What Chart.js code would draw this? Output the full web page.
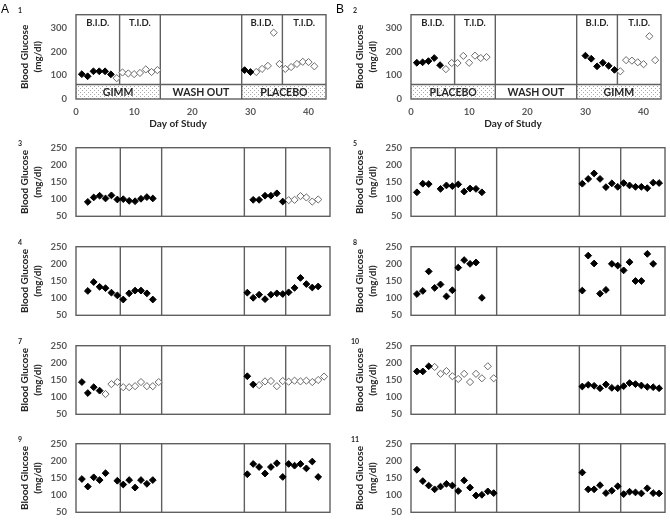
<!DOCTYPE html>
<html>
<head>
<meta charset="utf-8">
<script src="https://cdn.jsdelivr.net/npm/chart.js@4.4.1/dist/chart.umd.min.js"></script>
<style>
  html, body { margin: 0; padding: 0; background: #fff; }
  #wrap { position: relative; width: 670px; height: 524px; overflow: hidden; }
  #wrap canvas { position: absolute; }
</style>
</head>
<body>
<div id="wrap"></div>
<script>
// Study days of the two treatment periods (washout is days 15-28)
const firstDays  = [1, 2, 3, 4, 5, 6, 7, 8, 9, 10, 11, 12, 13, 14];
const secondDays = [29, 30, 31, 32, 33, 34, 35, 36, 37, 38, 39, 40, 41, 42];
const periodSplits = [7.5, 14.5, 28.5, 35.5];

const topYTicks = [0, 100, 200, 300];
const dayTicks = [0, 10, 20, 30, 40];

// Glucose (mg/dl) per day, null = no reading. *Open lists the days drawn as open diamonds.
const p1First  = [105, 96, 117, 117, 117, 104, 88, 112, 108, 105, 110, 125, 114, 122];
const p1Second = [122, 114, 114, 127, 140, 280, 148, 127, 135, 148, 157, 156, 138, null];
const p1Open   = [7, 8, 9, 10, 11, 12, 13, 14, 31, 32, 33, 34, 35, 36, 37, 38, 39, 40, 41];

const p2First  = [153, 155, 160, 173, 143, 126, 152, 152, 182, 153, 183, 173, 177, null];
const p2Second = [null, 183, 170, 138, 153, 140, 123, 117, 164, 162, 155, 147, 265, 164];
const p2Open   = [6, 7, 8, 9, 10, 11, 12, 13, 36, 37, 38, 39, 40, 41, 42];

const p3First  = [null, 92, 105, 110, 102, 111, 99, 100, 95, 94, 101, 106, 102, null];
const p3Second = [null, 98, 98, 110, 110, 117, 93, 97, 98, 109, 105, 93, 99, null];
const p3Open   = [36, 37, 38, 39, 40, 41];

const p4First  = [null, 121, 147, 133, 129, 116, 108, 96, 114, 122, 122, 114, 96, null];
const p4Second = [116, 101, 110, 97, 110, 114, 112, 117, 130, 159, 141, 131, 134, null];
const p4Open   = [];

const p7First  = [144, 112, 129, 119, 109, 138, 144, 129, 129, 132, 144, 132, 132, 144];
const p7Second = [161, 137, 135, 146, 147, 132, 147, 145, 148, 146, 148, 144, 150, 160];
const p7Open   = [5, 6, 7, 8, 9, 10, 11, 12, 13, 14, 31, 32, 33, 34, 35, 36, 37, 38, 39, 40, 41, 42];

const p9First  = [147, 125, 152, 144, 164, null, 142, 131, 144, 122, 144, 133, 144, null];
const p9Second = [161, 191, 182, 163, 182, 193, 153, 191, 186, 191, 178, 198, 153, null];
const p9Open   = [];

const p5First  = [120, 145, 144, null, 130, 140, 138, 143, 122, 131, 130, 120, null, null];
const p5Second = [145, 159, 175, 159, 135, 146, 136, 147, 140, 136, 136, 132, 148, 147];
const p5Open   = [];

const p8First  = [112, 121, 178, 130, 140, 105, 123, 189, 211, 200, 204, 101, null, null];
const p8Second = [122, 224, 201, 113, 124, 200, 195, 181, 205, 150, 150, 229, 200, null];
const p8Open   = [];

const p10First  = [175, 175, 190, 188, 168, 176, 161, 153, 168, 144, 168, 155, 190, 155];
const p10Second = [131, 136, 133, 126, 137, 127, 126, 132, 141, 138, 134, 130, 129, 126];
const p10Open   = [4, 5, 6, 7, 8, 9, 10, 11, 12, 13, 14];

const p11First  = [174, 141, 128, 117, 125, 133, 128, 112, 143, 122, 99, 101, 111, 106];
const p11Second = [166, 117, 117, 129, 106, 113, 126, 103, 110, 108, 105, 120, 106, 105];
const p11Open   = [];

const FONT = 'Lato, "Open Sans", sans-serif';
const INK = '#595959';
const DARK = '#262626';
const FRAME = '#606060';

// stipple fill used for the treatment bands
const dots = document.createElement('canvas');
dots.width = 4; dots.height = 4;
(() => {
    const g = dots.getContext('2d');
    g.fillStyle = '#fff'; g.fillRect(0, 0, 4, 4);
    g.fillStyle = '#a8a8a8'; g.fillRect(0, 0, 1, 1); g.fillRect(2, 2, 1, 1);
})();

function toPoints(first, second, open, wantOpen) {
    const out = [];
    firstDays.forEach((d, i) => { if (first[i] != null && open.includes(d) === wantOpen) out.push({x: d, y: first[i]}); });
    secondDays.forEach((d, i) => { if (second[i] != null && open.includes(d) === wantOpen) out.push({x: d, y: second[i]}); });
    return out;
}

const decor = {
    id: 'decor',
    beforeDatasetsDraw(chart, args, o) {
        const {ctx, chartArea: a, scales: {x, y}} = chart;
        ctx.save();
        let bandTopPx = null;
        if (o.bands) {
            bandTopPx = y.getPixelForValue(61);
            const bot = y.getPixelForValue(0);
            o.bands.forEach(b => {
                const l = x.getPixelForValue(b.from), r = x.getPixelForValue(b.to);
                if (b.dotted) {
                    ctx.fillStyle = ctx.createPattern(dots, 'repeat');
                    ctx.fillRect(l, bandTopPx, r - l, bot - bandTopPx);
                }
                ctx.fillStyle = DARK;
                ctx.font = `bold 10.5px ${FONT}`;
                ctx.textAlign = 'center';
                ctx.textBaseline = 'middle';
                ctx.fillText(b.label, (l + r) / 2, (bandTopPx + bot) / 2 + 0.5);
            });
            // regimen labels
            ctx.font = `bold 9.5px ${FONT}`;
            ctx.fillStyle = DARK;
            const regions = [[0, 7.5, 'B.I.D.'], [7.5, 14.5, 'T.I.D.'], [28.5, 35.5, 'B.I.D.'], [35.5, 43, 'T.I.D.']];
            regions.forEach(([f, t, s]) => {
                ctx.fillText(s, (x.getPixelForValue(f) + x.getPixelForValue(t)) / 2, y.getPixelForValue(320));
            });
        }
        ctx.strokeStyle = FRAME;
        ctx.lineWidth = 1.4;
        periodSplits.forEach(d => {
            const px = x.getPixelForValue(d);
            const short = o.bands && (d === 7.5 || d === 35.5);
            ctx.beginPath();
            ctx.moveTo(px, a.top);
            ctx.lineTo(px, short ? bandTopPx : a.bottom);
            ctx.stroke();
        });
        if (o.bands) {
            ctx.beginPath();
            ctx.moveTo(a.left, bandTopPx);
            ctx.lineTo(a.right, bandTopPx);
            ctx.stroke();
        }
        ctx.strokeRect(a.left, a.top, a.width, a.height);
        ctx.restore();
    },
    afterDraw(chart, args, o) {
        const {ctx, chartArea: a} = chart;
        ctx.save();
        // y axis title, two rotated lines
        const cy = (a.top + a.bottom) / 2;
        ctx.fillStyle = DARK;
        ctx.font = `bold 10px ${FONT}`;
        ctx.textAlign = 'center';
        ctx.textBaseline = 'middle';
        [['Blood Glucose', 25], ['(mg/dl)', 37.5]].forEach(([s, px]) => {
            ctx.save();
            ctx.translate(px, cy);
            ctx.rotate(-Math.PI / 2);
            ctx.fillText(s, 0, 0);
            ctx.restore();
        });
        // panel number
        ctx.font = `bold 7px ${FONT}`;
        ctx.fillText(o.num, 20, a.top - 3.5);
        if (o.letter) {
            ctx.font = `12px "Liberation Sans", Arial, sans-serif`;
            ctx.textAlign = 'left';
            ctx.textBaseline = 'alphabetic';
            ctx.fillStyle = '#000';
            ctx.fillText(o.letter, 1, 13);
        }
        if (o.bands) {
            ctx.font = `bold 10px ${FONT}`;
            ctx.textAlign = 'center';
            ctx.fillStyle = DARK;
            ctx.fillText('Day of Study', 178, 127);
        }
        ctx.restore();
    }
};

const tickFont = {family: FONT, size: 9.5, weight: 'bold'};

function addPanel(p) {
    const isTop = !!p.bands;
    const canvas = document.createElement('canvas');
    const plotTop = isTop ? 7.5 : p.plotTop;
    const canvasTop = isTop ? 0 : Math.round(plotTop) - 10;
    const h = isTop ? 136 : 98;
    canvas.width = 335;
    canvas.height = h;
    canvas.style.left = (p.col * 335) + 'px';
    canvas.style.top = canvasTop + 'px';
    document.getElementById('wrap').appendChild(canvas);

    const padTop = plotTop - canvasTop;
    const padBottom = isTop ? 0 : h - padTop - 77.5;

    new Chart(canvas, {
        type: 'scatter',
        data: {
            datasets: [{
                data: toPoints(p.first, p.second, p.open, false),
                pointStyle: 'rectRot',
                pointRadius: 3.4,
                backgroundColor: '#000',
                borderColor: '#000',
                borderWidth: 1
            }, {
                data: toPoints(p.first, p.second, p.open, true),
                pointStyle: 'rectRot',
                pointRadius: 3.6,
                backgroundColor: '#fff',
                borderColor: '#6a6a6a',
                borderWidth: 1
            }]
        },
        options: {
            responsive: false,
            animation: false,
            events: [],
            clip: false,
            layout: {padding: {top: padTop, bottom: padBottom, left: 0, right: isTop ? 9 : 3.3}},
            plugins: {
                legend: {display: false},
                tooltip: {enabled: false},
                decor: {num: p.num, letter: p.letter, bands: p.bands}
            },
            scales: {
                x: {
                    type: 'linear',
                    min: 0,
                    max: 43,
                    display: isTop,
                    grid: {display: false, drawTicks: false},
                    border: {display: false},
                    afterBuildTicks: s => { s.ticks = dayTicks.map(v => ({value: v})); },
                    afterFit: s => { s.height = isTop ? 136 - 99 : 0; },
                    ticks: {padding: 7, font: tickFont, color: INK, maxRotation: 0}
                },
                y: {
                    min: isTop ? 0 : 50,
                    max: isTop ? 356 : 250,
                    grid: {display: false, drawTicks: false},
                    border: {display: false},
                    afterBuildTicks: s => {
                        if (isTop) s.ticks = topYTicks.map(v => ({value: v}));
                    },
                    afterFit: s => { s.width = 76; },
                    ticks: {stepSize: 50, padding: 9, font: tickFont, color: INK}
                }
            }
        },
        plugins: [decor]
    });
}

const bandsA = [
    {from: 0, to: 14.5, label: 'GIMM', dotted: true},
    {from: 14.5, to: 28.5, label: 'WASH OUT', dotted: false},
    {from: 28.5, to: 43, label: 'PLACEBO', dotted: true}
];
const bandsB = [
    {from: 0, to: 14.5, label: 'PLACEBO', dotted: true},
    {from: 14.5, to: 28.5, label: 'WASH OUT', dotted: false},
    {from: 28.5, to: 43, label: 'GIMM', dotted: true}
];

addPanel({col: 0, num: '1', letter: 'A', bands: bandsA, first: p1First, second: p1Second, open: p1Open});
addPanel({col: 1, num: '2', letter: 'B', bands: bandsB, first: p2First, second: p2Second, open: p2Open});

addPanel({col: 0, num: '3', plotTop: 142.7, first: p3First, second: p3Second, open: p3Open});
addPanel({col: 0, num: '4', plotTop: 241.7, first: p4First, second: p4Second, open: p4Open});
addPanel({col: 0, num: '7', plotTop: 340.6, first: p7First, second: p7Second, open: p7Open});
addPanel({col: 0, num: '9', plotTop: 439.2, first: p9First, second: p9Second, open: p9Open});

addPanel({col: 1, num: '5', plotTop: 142.7, first: p5First, second: p5Second, open: p5Open});
addPanel({col: 1, num: '8', plotTop: 241.7, first: p8First, second: p8Second, open: p8Open});
addPanel({col: 1, num: '10', plotTop: 340.6, first: p10First, second: p10Second, open: p10Open});
addPanel({col: 1, num: '11', plotTop: 439.2, first: p11First, second: p11Second, open: p11Open});
</script>
</body>
</html>
